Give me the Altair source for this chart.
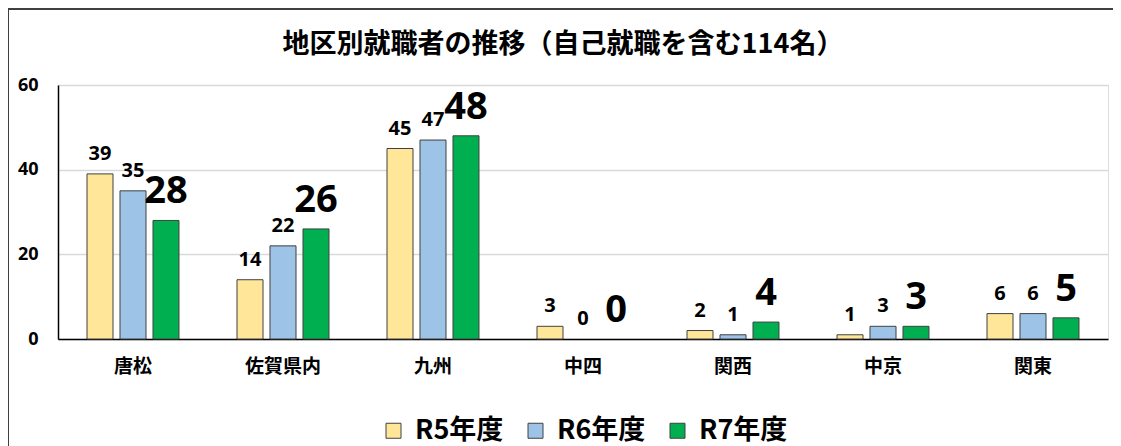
import altair as alt
import pandas as pd

categories = ["唐松", "佐賀県内", "九州", "中四", "関西", "中京", "関東"]
years = ["R5年度", "R6年度", "R7年度"]
r5 = [39, 14, 45, 3, 2, 1, 6]
r6 = [35, 22, 47, 0, 1, 3, 6]
r7 = [28, 26, 48, 0, 4, 3, 5]
colors = ["#FFE699", "#9DC3E6", "#00B050"]
title_text = "地区別就職者の推移（自己就職を含む114名）"

rows = []
for i, c in enumerate(categories):
    for y, vals in zip(years, [r5, r6, r7]):
        rows.append({"地区": c, "年度": y, "人数": vals[i]})
df = pd.DataFrame(rows)

JP = "Noto Sans CJK JP"
NUM = "Open Sans"

x_enc = alt.X("地区:N", sort=categories, title=None,
              scale=alt.Scale(paddingInner=0, paddingOuter=0),
              axis=alt.Axis(labelAngle=0, labelFont=JP, labelFontSize=19,
                            labelFontWeight="bold", labelColor="#000000",
                            labelPadding=18, ticks=False, domainColor="#000000",
                            domainWidth=1.5))
xo_enc = alt.XOffset("年度:N", sort=years,
                     scale=alt.Scale(paddingInner=0.212, paddingOuter=0.879))
y_enc = alt.Y("人数:Q", title=None,
              scale=alt.Scale(domain=[0, 60], nice=False),
              axis=alt.Axis(values=[0, 20, 40, 60], labelFont=NUM, labelFontSize=18,
                            labelFontWeight="bold", labelColor="#000000",
                            labelPadding=20, ticks=False, domainColor="#000000",
                            domainWidth=1.5, gridColor="#D9D9D9", gridWidth=1.5))
color_enc = alt.Color("年度:N", sort=years,
                      scale=alt.Scale(domain=years, range=colors),
                      legend=alt.Legend(title=None, orient="none", direction="horizontal",
                                        legendX=322, legendY=332,
                                        symbolType="square", symbolSize=225,
                                        symbolStrokeColor="#404040", symbolStrokeWidth=1,
                                        symbolOpacity=1,
                                        labelFont=JP, labelFontSize=27, labelFontWeight="bold",
                                        labelColor="#000000", labelOffset=8,
                                        columnPadding=18))

base = alt.Chart(df)

bars = base.mark_bar(stroke="#404040", strokeWidth=1, opacity=1).encode(
    x=x_enc, xOffset=xo_enc, y=y_enc, color=color_enc
).transform_filter(alt.datum["人数"] > 0)

small = base.mark_text(font=NUM, fontSize=20, fontWeight="bold", color="#000000",
                       baseline="bottom", dy=-10).encode(
    x=alt.X("地区:N", sort=categories), xOffset=alt.XOffset("年度:N", sort=years),
    y="人数:Q", text="人数:Q"
).transform_filter(alt.datum["年度"] != "R7年度")

big = base.mark_text(font=NUM, fontSize=38, fontWeight="bold", color="#000000",
                     baseline="bottom", dy=-9).encode(
    x=alt.X("地区:N", sort=categories), xOffset=alt.XOffset("年度:N", sort=years),
    y="人数:Q", text="人数:Q"
).transform_filter(alt.datum["年度"] == "R7年度")

title = alt.Chart(pd.DataFrame({"t": [title_text]})).mark_text(
    font=JP, fontSize=27, fontWeight="bold", color="#000000",
    align="center", baseline="middle").encode(
    text="t:N", x=alt.value(505), y=alt.value(-40))

frame_left = alt.Chart(df).mark_rule(color="#404040", strokeWidth=1.5).encode(
    x=alt.value(-50), y=alt.value(-77), y2=alt.value(400))
frame_top = alt.Chart(df).mark_rule(color="#404040", strokeWidth=1.5).encode(
    x=alt.value(-50), x2=alt.value(1060), y=alt.value(-76.5))

chart = alt.layer(frame_left, frame_top, title, bars, small, big).properties(
    width=1050, height=254,
    autosize=alt.AutoSizeParams(type="none"),
    padding={"left": 50, "top": 77, "right": 5, "bottom": 107},
).configure_view(stroke="#7F7F7F", strokeWidth=1.5).configure(background="#FFFFFF")

chart.save("out.html", embed_options={"renderer": "svg", "actions": False})
